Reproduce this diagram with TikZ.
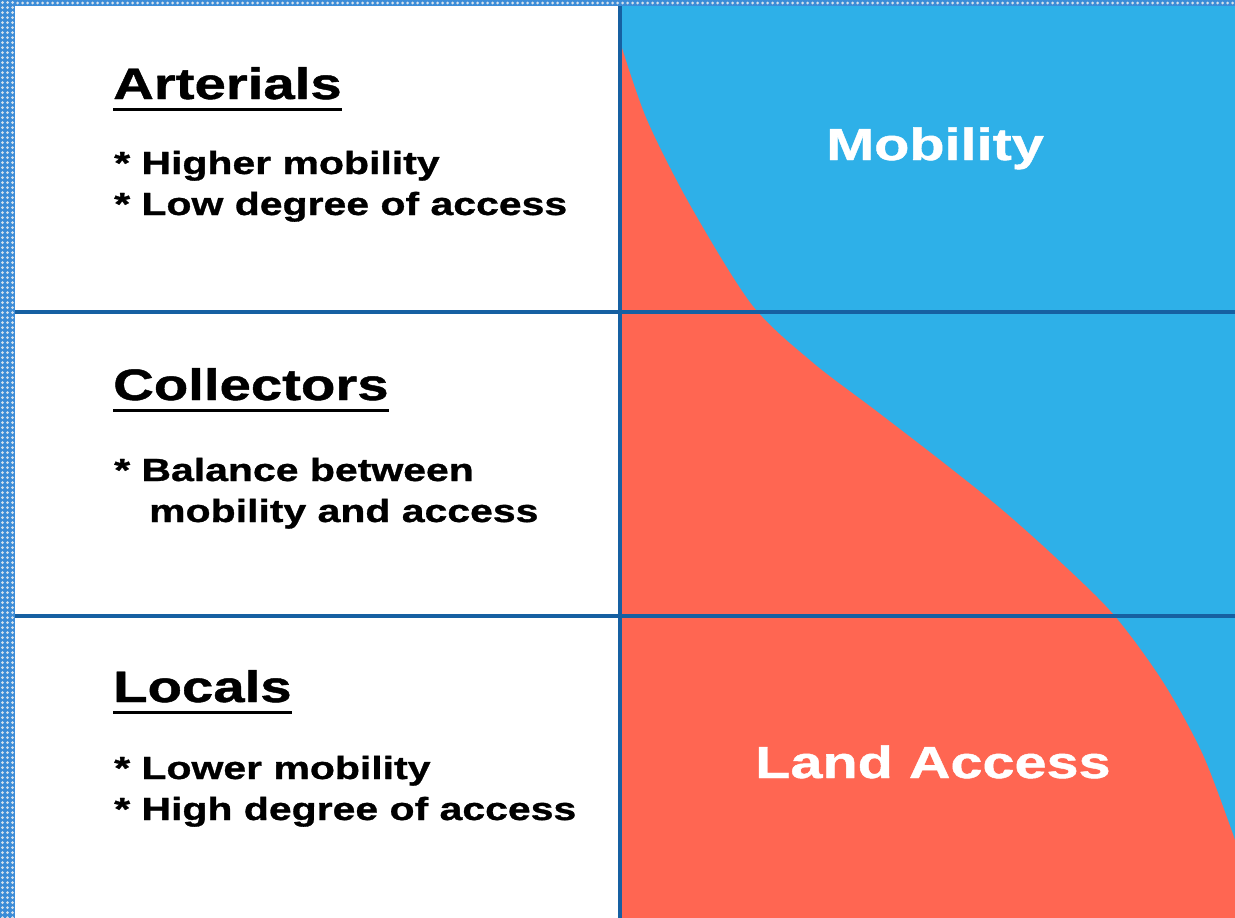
\documentclass[tikz,border=0pt]{standalone}
\usepackage{fontspec}
\newfontfamily\roadfont{Liberation Sans}[FakeStretch=1.28,FakeBold=1.0]
\usetikzlibrary{patterns}

\definecolor{mobblue}{RGB}{46,176,232}
\definecolor{accred}{RGB}{255,102,82}
\definecolor{gridblue}{RGB}{22,96,162}
\definecolor{edgeblue}{RGB}{60,140,215}
\definecolor{edgedot}{RGB}{215,225,235}

\begin{document}
\begin{tikzpicture}[x=1pt,y=-1pt,
    head/.style={anchor=base west,inner sep=0pt,font=\roadfont\bfseries\fontsize{44}{44}\selectfont},
    item/.style={anchor=base west,inner sep=0pt,font=\roadfont\bfseries\fontsize{32}{32}\selectfont},
    big/.style={anchor=base,inner sep=0pt,text=white,font=\roadfont\bfseries\fontsize{45}{45}\selectfont},
    ul/.style={line width=3pt},
    rule/.style={gridblue,line width=4.5pt}]
\useasboundingbox (0,0) rectangle (1235,918);

% checkered edge
\fill[edgeblue] (0,0) rectangle (15,918);
\fill[edgeblue] (0,0) rectangle (1235,6);
\foreach \y in {0,5,...,915}
  \foreach \x in {0,5,10}
    \fill[edgedot] (\x+2.5,\y+2.5) circle (1.5);
\foreach \x in {15,20,...,1230}
  \fill[edgedot] (\x+2.5,3) circle (1.5);

% panels
\fill[white] (15,6) rectangle (620,918);
\fill[mobblue] (620,6) rectangle (1235,918);
\fill[accred] plot[smooth] coordinates {(622,48) (647,120) (690,205) (752,305) (812,362)
    (875,410) (940,460) (1000,508) (1055,557) (1113,614) (1163,682) (1203,755) (1235,840)}
    -- (1235,918) -- (622,918) -- cycle;

% grid
\draw[rule] (620,6) -- (620,918);
\draw[rule] (15,312) -- (1235,312);
\draw[rule] (15,616) -- (1235,616);

% left column
\node[head] (arterials) at (113,99) {Arterials};
\node[item] (art1) at (114,174) {* Higher mobility};
\node[item] (art2) at (114,215) {* Low degree of access};

\node[head] (collectors) at (113,400) {Collectors};
\node[item] (col1) at (114,481) {* Balance between};
\node[item] (col2) at (149,522) {mobility and access};

\node[head] (locals) at (113,702) {Locals};
\node[item] (loc1) at (114,779) {* Lower mobility};
\node[item] (loc2) at (114,820) {* High degree of access};

\foreach \h in {arterials,collectors,locals}
  \draw[ul] ([yshift=-10pt]\h.base west) -- ([yshift=-10pt]\h.base east);

% right column
\node[big] (mobility) at (935,160) {Mobility};
\node[big] (landaccess) at (933,778) {Land Access};
\end{tikzpicture}
\end{document}
